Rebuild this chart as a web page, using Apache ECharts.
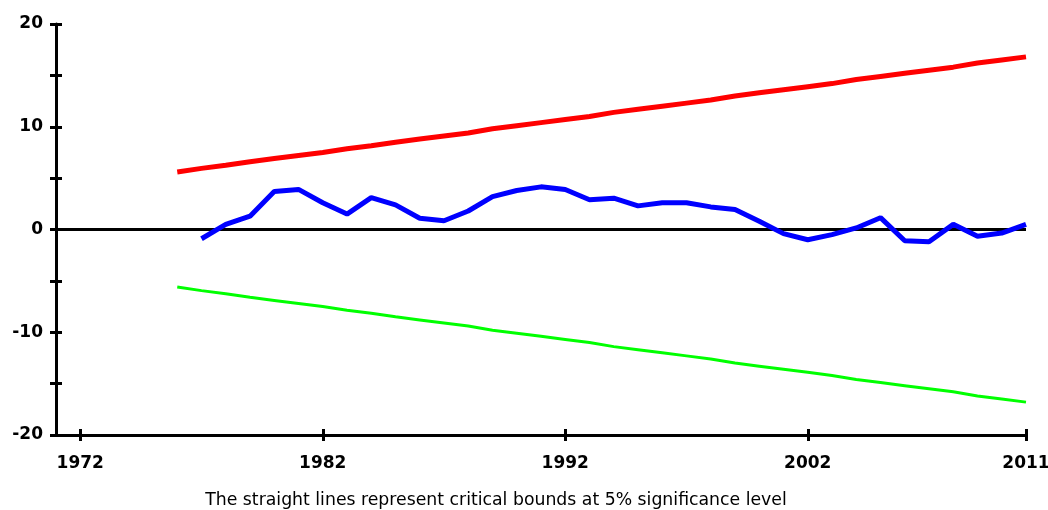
<!DOCTYPE html>
<html>
<head>
<meta charset="utf-8">
<script src="https://cdn.jsdelivr.net/npm/echarts@6/dist/echarts.min.js"></script>
<style>html,body{margin:0;padding:0;background:#fff}#c{width:1048px;height:510px}</style>
</head>
<body>
<div id="c"></div>
<script>
const years = ['1971','1972','1973','1974','1975','1976','1977','1978','1979','1980','1981','1982','1983','1984','1985','1986','1987','1988','1989','1990','1991','1992','1993','1994','1995','1996','1997','1998','1999','2000','2001','2002','2003','2004','2005','2006','2007','2008','2009','2010','2011'];
const tickYears = ['1972','1982','1992','2002','2011'];
const cusum = [null,null,null,null,null,null,-0.9,0.5,1.3,3.7,3.9,2.6,1.5,3.1,2.4,1.1,0.85,1.8,3.2,3.8,4.15,3.9,2.9,3.05,2.3,2.6,2.6,2.2,1.95,0.8,-0.4,-1.0,-0.5,0.15,1.15,-1.1,-1.2,0.5,-0.65,-0.35,0.5];
const upperBound = [null,null,null,null,null,5.6,5.95,6.25,6.6,6.9,7.2,7.5,7.85,8.15,8.5,8.8,9.1,9.4,9.8,10.1,10.4,10.7,11.0,11.4,11.7,12.0,12.3,12.6,13.0,13.3,13.6,13.9,14.2,14.6,14.9,15.2,15.5,15.8,16.2,16.5,16.8];
const lowerBound = [null,null,null,null,null,-5.6,-5.95,-6.25,-6.6,-6.9,-7.2,-7.5,-7.85,-8.15,-8.5,-8.8,-9.1,-9.4,-9.8,-10.1,-10.4,-10.7,-11.0,-11.4,-11.7,-12.0,-12.3,-12.6,-13.0,-13.3,-13.6,-13.9,-14.2,-14.6,-14.9,-15.2,-15.5,-15.8,-16.2,-16.5,-16.8];
const yLabels = [-20,-10,0,10,20];
const note = 'The straight lines represent critical bounds at 5% significance level';

const chart = echarts.init(document.getElementById('c'), null, {renderer:'canvas'});
const showTick = (i, v) => tickYears.includes(v);
const labFont = {fontFamily:'DejaVu Sans, sans-serif', fontWeight:'bold', fontSize:17, color:'#000'};
chart.setOption({
  animation:false,
  backgroundColor:'#fff',
  title:{text:note, left:491, textAlign:'center', top:487, textStyle:{fontFamily:'DejaVu Sans, sans-serif', fontWeight:'normal', fontSize:17.3, color:'#000'}},
  grid:{left:56, right:22, top:24, bottom:75, containLabel:false, outerBoundsMode:'none'},
  xAxis:[{
    type:'category', data:years, boundaryGap:false, position:'bottom',
    axisLine:{onZero:false, lineStyle:{color:'#000', width:3}},
    axisTick:{interval:showTick, length:6, lineStyle:{color:'#000', width:3}},
    axisLabel:Object.assign({interval:showTick, margin:20, hideOverlap:false}, labFont),
    splitLine:{show:false}
  },{
    type:'category', data:years, boundaryGap:false, position:'bottom',
    axisLine:{show:false, onZero:false},
    axisTick:{inside:true, interval:showTick, length:6, lineStyle:{color:'#000', width:3}},
    axisLabel:{show:false}, splitLine:{show:false}
  }],
  yAxis:[{
    type:'value', min:-20, max:20, interval:5, position:'left',
    axisLine:{show:true, onZero:false, lineStyle:{color:'#000', width:3}},
    axisTick:{show:true, length:6, lineStyle:{color:'#000', width:3}},
    axisLabel:Object.assign({margin:13, formatter:v => yLabels.includes(v) ? String(v) : ''}, labFont),
    splitLine:{show:false}
  },{
    type:'value', min:-20, max:20, interval:5, position:'left',
    axisLine:{show:false, onZero:false},
    axisTick:{show:true, inside:true, length:6, lineStyle:{color:'#000', width:3}},
    axisLabel:{show:false}, splitLine:{show:false}
  }],
  series:[
    {type:'line', data:upperBound, showSymbol:false, symbol:'none', lineStyle:{color:'#ff0000', width:5}, z:3},
    {type:'line', data:lowerBound, showSymbol:false, symbol:'none', lineStyle:{color:'#00ff00', width:3}, z:3},
    {type:'line', data:cusum, showSymbol:false, symbol:'none', lineStyle:{color:'#0000ff', width:5}, z:4,
     markLine:{silent:true, symbol:['none','none'], label:{show:false}, lineStyle:{color:'#000', width:3, type:'solid'}, data:[{yAxis:0}], z:2}}
  ]
});
</script>
</body>
</html>
